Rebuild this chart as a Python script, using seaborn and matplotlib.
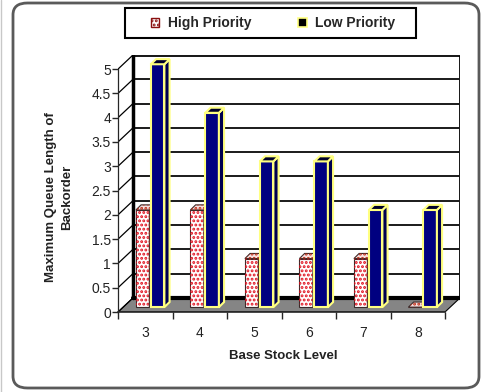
import numpy as np
import pandas as pd
import seaborn as sns
import matplotlib
matplotlib.use("Agg")
import matplotlib.pyplot as plt
from matplotlib.patches import Rectangle, Polygon, Patch, FancyBboxPatch
from matplotlib.lines import Line2D

# ---- data ----
levels = [3, 4, 5, 6, 7, 8]
high_priority = [2, 2, 1, 1, 1, 0]
low_priority = [5, 4, 3, 3, 2, 2]
series_names = ["High Priority", "Low Priority"]
ytick_values = [0, 0.5, 1, 1.5, 2, 2.5, 3, 3.5, 4, 4.5, 5]
ytick_labels = ["0", "0.5", "1", "1.5", "2", "2.5", "3", "3.5", "4", "4.5", "5"]

df = pd.DataFrame({
    "level": [str(l) for l in levels] * 2,
    "queue": high_priority + low_priority,
    "priority": [series_names[0]] * len(levels) + [series_names[1]] * len(levels),
})

sns.set_style("white")
plt.rcParams["font.family"] = ["Liberation Sans", "DejaVu Sans"]
plt.rcParams["hatch.linewidth"] = 1.4

W, H = 483, 392
fig = plt.figure(figsize=(W / 100, H / 100), dpi=100)

# axes rectangle in pixels (front-left corner at x=118, floor front at y=312)
L, R, T, B = 118, 460, 55, 312
ax = fig.add_axes([L / W, 1 - B / H, (R - L) / W, (B - T) / H])

DX, DY = 0.275, 0.29          # depth offset of back wall (data units)
SX, SY = 0.09, 0.10           # front face offset of the columns
BX, BY = 0.095, 0.105         # column depth

NAVY = "#000080"
pal = {series_names[0]: "white", series_names[1]: NAVY}

sns.barplot(data=df, x="level", y="queue", hue="priority", palette=pal,
            width=0.55, gap=0.1, legend=False, ax=ax, saturation=1,
            order=[str(l) for l in levels], hue_order=series_names)

ax.set_xlim(-0.5, 5.5 + DX)
ax.set_ylim(0, 5 + DY)

# back wall
ax.add_patch(Rectangle((-0.5 + DX, DY), 6, 5, facecolor="white",
                       edgecolor="black", lw=2, zorder=0.5))
for v in ytick_values[1:]:
    ax.plot([-0.5 + DX, 5.5 + DX], [v + DY, v + DY], color="#1a1a1a",
            lw=1.4, zorder=0.6)
# floor
ax.add_patch(Polygon([(-0.5, 0), (5.5, 0), (5.5 + DX, DY), (-0.5 + DX, DY)],
                     closed=True, facecolor="#858585", edgecolor="black",
                     lw=0.8, zorder=0.7))
ax.plot([-0.5 + DX, 5.5 + DX], [DY, DY], color="black", lw=3, zorder=0.8)
ax.plot([-0.5 + DX, -0.5 + DX], [DY, 5 + DY], color="black", lw=2.5, zorder=0.8)

# slanted tick connectors on the value axis
for v in ytick_values:
    ax.plot([-0.5, -0.5 + DX], [v, v + DY], color="black", lw=0.9,
            zorder=0.9, solid_capstyle="butt")

# columns with side and top faces
for j, cont in enumerate(ax.containers):
    for rect in cont:
        x0 = rect.get_x() + SX
        w = rect.get_width()
        h = rect.get_height()
        rect.set_x(x0)
        rect.set_y(SY)
        side = [(x0 + w, SY), (x0 + w + BX, SY + BY),
                (x0 + w + BX, SY + h + BY), (x0 + w, SY + h)]
        top = [(x0, SY + h), (x0 + BX, SY + h + BY),
               (x0 + w + BX, SY + h + BY), (x0 + w, SY + h)]
        if j == 0:
            rect.set_facecolor("white")
            rect.set_edgecolor("#3a2a2a")
            rect.set_linewidth(0.8)
            rect.set_zorder(3.0)
            ax.add_patch(Rectangle((x0, SY), w, h, fill=False, hatch="....",
                                   edgecolor="#e0101e", lw=0, zorder=3.01))
            for poly, fc in ((side, "#f0cccc"), (top, "#f6e0e0")):
                ax.add_patch(Polygon(poly, closed=True, facecolor=fc,
                                     edgecolor="#3a2a2a", lw=0.8, zorder=3.1))
                ax.add_patch(Polygon(poly, closed=True, fill=False, hatch="....",
                                     edgecolor="#c0301a", lw=0, zorder=3.11))
        else:
            rect.set_facecolor(NAVY)
            rect.set_edgecolor("#ffff80")
            rect.set_linewidth(1.5)
            rect.set_zorder(3.2)
            ax.add_patch(Polygon(side, closed=True, facecolor="#000050",
                                 edgecolor="#ffff80", lw=1.5, zorder=3.3))
            ax.add_patch(Polygon(top, closed=True, facecolor="#00002a",
                                 edgecolor="#ffff80", lw=1.5, zorder=3.3))

# axes, ticks and labels
for s in ("top", "right"):
    ax.spines[s].set_visible(False)
ax.spines["bottom"].set_bounds(-0.5, 5.5)
ax.spines["left"].set_bounds(0, 5)
ax.spines["bottom"].set_linewidth(1.2)
ax.spines["left"].set_linewidth(0.9)
ax.spines["bottom"].set_zorder(5)

ax.set_yticks(ytick_values, ytick_labels)
ax.set_xticks(range(len(levels)), [str(l) for l in levels])
ax.set_xticks(np.arange(-0.5, 6.0, 1.0), minor=True)
ax.tick_params(axis="y", which="major", left=True, length=4, width=1,
               pad=1, labelsize=10, labelcolor="#222222")
ax.tick_params(axis="x", which="major", bottom=False, length=0, pad=10,
               labelsize=10, labelcolor="#222222")
ax.tick_params(axis="x", which="minor", bottom=True, length=5, width=1,
               direction="out")
ax.set_xlabel("")
ax.set_ylabel("")

fig.text(283 / W, 1 - 356 / H, "Base Stock Level", ha="center", va="center",
         fontsize=9.5, fontweight="bold", color="#222222")
fig.text(59 / W, 1 - 197 / H, "Maximum Queue Length of\nBackorder",
         ha="center", va="center", rotation=90, fontsize=9.5,
         fontweight="bold", color="#222222", linespacing=1.5)

# legend
fig.patches.append(Rectangle((125 / W, 1 - 38 / H), (416 - 125) / W, 30 / H,
                             transform=fig.transFigure, fill=False,
                             edgecolor="black", lw=1.5))
handles = [
    Patch(facecolor="white", edgecolor="#8a1010", hatch="....", lw=1.0,
          label=series_names[0]),
    Patch(facecolor="black", edgecolor="#ffff80", lw=1.2, label=series_names[1]),
]
fig.legend(handles=handles, ncol=2, loc="center",
           bbox_to_anchor=(273 / W, 1 - 23 / H), frameon=False,
           handlelength=0.6, handleheight=0.6, handletextpad=0.6,
           columnspacing=3.4, prop={"weight": "bold", "size": 10})

# outer rounded frame
fig.patches.append(FancyBboxPatch((13 / W, 4 / H), (479 - 13) / W, (389 - 4) / H,
                                  boxstyle="round,pad=0,rounding_size=0.03",
                                  transform=fig.transFigure, fill=False,
                                  edgecolor="#5a5a5a", lw=2))
fig.add_artist(Line2D([1 / W, 1 / W], [0, 1], transform=fig.transFigure,
                      color="#c8c8c8", lw=1))

fig.savefig("out.png", dpi=100)
